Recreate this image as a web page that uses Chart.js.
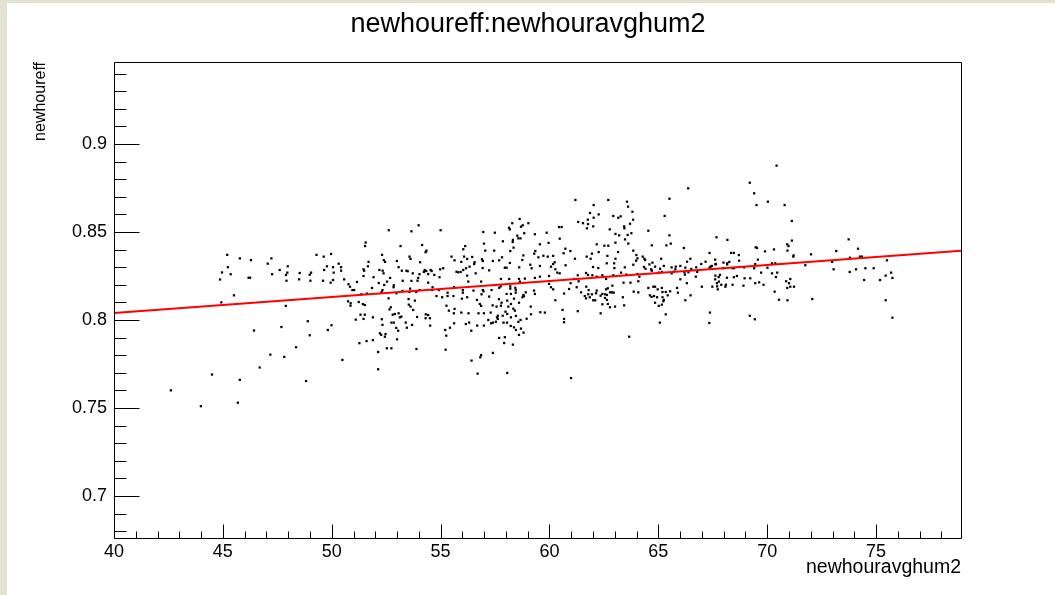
<!DOCTYPE html>
<html>
<head>
<meta charset="utf-8">
<title>newhoureff:newhouravghum2</title>
<script src="https://cdn.jsdelivr.net/npm/chart.js@4.4.0/dist/chart.umd.js"></script>
<style>
  html, body { margin: 0; padding: 0; background: #e5e2d2; overflow: hidden; }
  #wrap { position: absolute; left: 7px; top: 3px; width: 1048px; height: 592px; background: #fff; }
  canvas { display: block; }
</style>
</head>
<body>
<div id="wrap"><canvas id="c" width="1048" height="592" style="width:1048px;height:592px"></canvas></div>
<script>
// newhouravghum2 (x) and newhoureff (y), same order in both arrays
const hum = [
  // < 47
  45.20,45.78,46.29,45.23,44.96,45.36,44.87,46.18,46.25,45.51,44.93,46.43,46.69,44.50,45.78,42.61,45.69,43.99,
  // 47 - 53.3
  52.62,47.23,47.06,51.56,51.53,53.16,49.30,49.63,49.97,52.31,
  52.39,52.45,51.69,50.32,52.99,50.43,47.98,49.78,50.06,50.43,
  51.66,53.07,52.34,52.38,52.19,53.22,47.61,47.96,47.90,47.26,
  48.53,48.99,49.05,49.65,50.09,51.46,51.49,51.46,51.92,48.50,
  47.92,49.02,49.60,50.06,49.95,50.57,51.16,52.68,52.54,53.26,
  52.16,52.85,52.84,50.77,50.84,50.95,51.03,52.41,51.85,52.33,
  52.29,51.36,51.61,52.97,52.61,53.25,47.89,50.75,50.87,50.86,
  51.24,51.43,51.52,52.71,52.65,52.80,52.90,53.07,53.20,53.13,
  51.32,51.52,51.46,51.89,52.30,52.33,51.10,52.74,52.85,48.90,
  47.69,49.99,49.82,52.96,53.05,48.99,52.21,52.27,52.47,52.44,
  53.00,51.60,51.89,51.27,48.36,52.53,52.74,52.13,47.18,47.82,
  50.49,52.13,48.82,
  // 53.3 - 59.8, upper
  58.63,58.29,59.03,53.99,53.66,55.00,58.14,58.18,58.69,58.77,
  56.96,57.49,58.84,58.52,58.57,58.67,59.33,57.86,58.32,58.31,
  56.99,59.56,54.15,56.13,56.04,58.35,58.20,54.35,54.31,57.05,
  57.46,59.35,59.30,58.80,59.72,59.49,53.57,53.62,55.50,56.08,
  56.22,56.45,56.90,56.94,56.56,56.54,57.82,57.69,55.64,55.95,
  58.18,58.75,54.06,57.40,56.33,56.17,56.93,57.23,58.03,57.95,
  58.61,59.12,59.56,59.18,55.12,54.98,54.27,54.34,54.23,54.54,
  54.59,54.43,53.43,53.49,53.72,54.03,54.71,55.73,55.81,55.92,
  56.04,56.61,56.22,53.97,54.95,57.77,58.15,58.60,58.87,59.33,
  59.56,
  // 53.3 - 59.8, lower
  53.66,53.94,54.43,54.63,54.61,55.62,56.27,56.86,57.76,58.20,
  58.20,58.43,58.64,53.60,53.57,53.88,54.03,54.93,55.32,56.02,
  56.02,56.51,56.94,56.97,56.88,57.34,57.69,58.03,58.23,58.45,
  58.45,58.80,58.76,58.83,58.91,59.29,59.33,54.81,53.82,53.53,
  55.07,55.32,55.59,55.98,56.22,56.67,57.23,57.68,57.80,57.77,
  58.06,58.23,58.37,58.60,53.54,53.62,53.74,56.80,56.86,57.39,
  57.57,58.11,58.34,58.41,59.14,55.27,55.38,55.64,55.61,55.95,
  56.28,56.74,56.99,57.30,57.63,57.85,57.59,57.63,57.98,58.06,
  58.23,58.46,58.67,58.57,58.95,59.15,59.58,54.32,54.43,54.51,
  54.31,53.92,53.40,53.45,53.69,54.52,55.62,56.16,56.31,56.68,
  56.99,57.19,57.32,57.54,57.40,57.89,58.05,58.22,58.37,58.46,
  58.69,58.81,58.60,56.41,55.21,55.43,55.26,57.69,57.95,57.92,
  58.32,53.89,55.23,57.40,56.86,56.82,56.42,56.70,58.06,
  // 59.8 - 65.8, upper
  61.19,62.70,62.03,63.56,63.61,65.51,61.86,62.26,63.81,62.03,
  61.76,62.93,63.16,63.27,65.29,61.32,61.54,61.77,62.01,61.72,
  63.84,63.70,63.43,63.44,62.77,60.44,60.56,59.87,64.54,63.76,
  63.03,63.20,65.51,60.47,63.47,63.59,59.96,62.17,63.03,63.62,
  62.52,62.70,64.70,65.37,65.57,60.73,60.96,60.65,62.26,61.95,
  63.15,63.85,59.92,60.17,61.17,61.71,61.89,62.66,63.03,63.99,
  64.04,64.28,64.36,65.13,
  // 59.8 - 65.8, lower
  60.07,60.17,60.24,60.74,60.27,60.36,60.47,59.98,62.00,62.24,
  62.63,62.97,62.98,63.46,63.98,64.39,64.34,64.41,64.59,64.73,
  64.85,64.67,64.70,65.08,65.25,65.16,65.02,65.61,65.70,65.61,
  61.68,61.77,61.97,62.17,62.43,62.60,62.93,63.29,63.53,61.30,
  61.34,61.13,60.97,60.90,61.25,59.98,60.07,60.17,60.67,61.45,
  61.69,61.80,61.78,61.62,61.68,61.85,61.95,62.17,62.14,62.01,
  62.10,62.35,62.43,62.56,62.55,62.64,62.68,62.60,62.78,62.87,
  62.95,62.89,63.40,63.72,63.37,62.64,62.43,62.68,62.78,63.01,
  62.35,63.43,63.87,64.08,63.85,64.04,64.08,64.13,64.54,64.77,
  64.85,64.97,65.16,65.19,65.34,65.54,64.61,64.69,64.80,64.94,
  65.19,65.25,65.43,64.85,65.02,65.16,65.23,65.34,65.07,63.66,
  60.60,61.30,60.67,60.67,60.27,59.79,60.99,
  // 65.8 - 72.5
  70.43,66.37,69.20,69.40,69.51,70.03,70.80,71.13,67.67,68.17,
  66.17,71.13,70.92,70.98,70.93,69.47,69.53,70.31,71.21,71.20,
  67.35,68.34,68.47,68.70,66.47,66.32,66.24,67.61,67.64,66.97,
  67.17,67.40,67.99,68.16,68.26,68.71,69.57,69.45,69.90,70.22,
  70.37,70.01,71.75,72.01,65.80,65.78,66.01,66.74,66.51,66.78,
  67.35,67.46,67.62,67.98,68.16,68.41,68.48,68.94,69.40,66.20,
  66.38,66.22,66.01,65.86,66.72,66.78,67.62,67.83,67.77,67.61,
  68.15,68.61,68.47,68.96,69.72,70.22,70.46,70.40,70.87,71.06,
  71.00,66.31,67.00,67.48,67.69,67.78,67.70,67.73,67.89,68.10,
  68.08,68.41,68.91,69.22,69.45,69.63,69.83,71.06,71.23,70.92,
  65.90,66.48,66.24,67.37,67.34,69.20,69.43,70.34,70.54,70.93,72.07,
  // > 72.5
  73.74,73.17,74.17,73.80,74.26,74.35,72.98,75.50,73.05,73.79,
  74.08,74.51,74.89,75.69,75.44,75.75,74.45,75.18,75.44,75.75
];
const eff = [
  .837,.835,.834,.830,.827,.826,.823,.824,.824,.814,.810,.794,.773,.769,.766,.760,.753,.751,

  .851,.835,.832,.844,.842,.842,.837,.836,.8375,.837,
  .834,.833,.833,.832,.8335,.830,.8305,.8305,.830,.828,
  .8305,.830,.828,.8265,.8284,.828,.8284,.8269,.8256,.826,
  .8267,.8257,.8269,.8284,.8269,.8288,.828,.825,.8243,.8231,
  .8223,.8223,.8223,.8227,.8212,.8231,.8216,.8239,.8218,.8223,
  .821,.8197,.8186,.8203,.8189,.817,.817,.8199,.8182,.817,
  .8159,.8146,.815,.8152,.8123,.8165,.808,.8106,.8095,.8081,
  .8102,.809,.8085,.8072,.806,.803,.8034,.8038,.8019,.8015,
  .803,.803,.8006,.8015,.8004,.7972,.8002,.7985,.7985,.7993,
  .796,.797,.7943,.7955,.7939,.7913,.7924,.7916,.792,.7905,
  .789,.788,.7885,.7868,.7845,.7839,.7839,.7818,.7803,.779,
  .7773,.772,.7653,

  .8574,.855,.855,.8538,.8504,.851,.8524,.8515,.853,.8538,
  .850,.8496,.8493,.8479,.8464,.8464,.8487,.8447,.8455,.8443,
  .8434,.843,.8426,.842,.8402,.8411,.8392,.8394,.8385,.8394,
  .8394,.8392,.8377,.8367,.8365,.8356,.836,.8347,.836,.836,
  .8347,.8358,.8345,.8335,.8328,.8318,.8356,.8339,.8339,.833,
  .8324,.8341,.8328,.8335,.8303,.8294,.8295,.8282,.8297,.8297,
  .8299,.8314,.8307,.8294,.8294,.8288,.8284,.8278,.8273,.8284,
  .8278,.8261,.828,.8277,.8265,.826,.8256,.8274,.8271,.8273,
  .8284,.8265,.8252,.8239,.8243,.8233,.8233,.8233,.8235,.8239,
  .8246,

  .8222,.8223,.8212,.8186,.817,.8187,.8218,.8218,.8191,.8191,
  .8178,.8183,.8218,.8178,.8159,.8159,.817,.817,.8155,.817,
  .8155,.8167,.817,.8163,.8146,.817,.8183,.8148,.8148,.817,
  .8155,.8142,.8129,.8135,.8157,.8167,.8148,.8136,.811,.8119,
  .8129,.8136,.8136,.8121,.8129,.8114,.8133,.8118,.8098,.8081,
  .811,.8091,.8121,.8098,.8087,.8076,.8057,.8091,.808,.8083,
  .8076,.8076,.8064,.8053,.8076,.8081,.8053,.8063,.8038,.8042,
  .8038,.8038,.8038,.8042,.8024,.8024,.8015,.8006,.8047,.8034,
  .8015,.8023,.800,.7989,.8007,.8032,.8044,.8032,.8028,.801,
  .801,.8017,.7985,.7956,.7972,.7968,.7981,.7977,.7985,.7968,
  .7968,.800,.7981,.799,.7985,.7985,.7985,.7966,.7958,.7943,
  .7951,.7928,.7915,.7939,.7943,.7956,.7911,.7898,.7902,.7869,
  .786,.7835,.7831,.7813,.780,.7788,.7769,.7695,.7699,

  .8682,.8682,.8653,.8672,.8644,.8689,.8608,.860,.8615,.8581,
  .857,.8591,.8581,.8589,.8591,.8557,.855,.8545,.8532,.8521,
  .857,.8547,.8532,.8521,.8515,.8528,.8528,.8496,.8507,.8493,
  .8489,.8481,.8481,.8462,.8458,.8483,.8438,.843,.8439,.8434,
  .8422,.8422,.8424,.8424,.8434,.8405,.8392,.8379,.8386,.8377,
  .8386,.8394,.836,.8364,.8348,.836,.8348,.8364,.8348,.8369,
  .835,.836,.8348,.8348,

  .8303,.8318,.8328,.8311,.8288,.8269,.8265,.825,.8301,.8295,
  .8322,.8322,.8295,.8299,.8337,.8341,.8301,.8291,.8316,.8326,
  .8303,.8288,.828,.8291,.8307,.8273,.8269,.8299,.8274,.8265,
  .8267,.8256,.8254,.8246,.8254,.8233,.8254,.8269,.8258,.8254,
  .822,.8233,.8209,.8176,.8186,.8205,.8186,.8174,.815,.8157,
  .8189,.817,.8146,.8136,.8123,.8129,.8146,.8167,.8152,.8112,
  .8112,.8138,.8148,.8146,.8125,.8142,.818,.8174,.8157,.8157,
  .8155,.8195,.8212,.8212,.8129,.8114,.8089,.8091,.8072,.8076,
  .8038,.8083,.8161,.8157,.8314,.8261,.822,.8246,.8182,.8189,
  .8189,.8174,.8182,.8159,.8159,.8163,.814,.8131,.8136,.8129,
  .8129,.8114,.814,.8098,.808,.8087,.8106,.8032,.7985,.7905,
  .8057,.805,.8006,.7987,.8112,.8042,.767,

  .8877,.8748,.878,.872,.8653,.8672,.8653,.8563,.847,.8455,
  .8409,.8451,.843,.842,.8394,.8413,.8409,.8401,.8367,.836,
  .8381,.8381,.8381,.8369,.8348,.8331,.8297,.8343,.8318,.8318,
  .8331,.8303,.8326,.8322,.833,.8337,.8343,.8318,.839,.8322,
  .8322,.8297,.8311,.8373,.8303,.8288,.8307,.8299,.829,.8274,
  .8297,.8307,.8316,.8294,.8316,.8294,.8295,.8299,.8294,.8271,
  .8271,.8258,.8231,.8182,.8246,.8277,.8252,.8256,.8244,.8231,
  .824,.825,.8243,.8237,.8269,.8265,.8269,.8244,.822,.8233,
  .8209,.8209,.8189,.8189,.8209,.8218,.8191,.8174,.820,.820,
  .8189,.820,.8195,.8237,.8209,.8214,.820,.8189,.8189,.8182,
  .8155,.814,.8112,.8042,.7983,.8024,.8004,.8161,.8115,.8112,.8119,

  .8458,.8392,.8405,.8354,.836,.836,.833,.8339,.8288,.8273,
  .8288,.8294,.8294,.8269,.8252,.8239,.8227,.8227,.8112,.8013
];

// linear fit drawn over the scatter
const fitX = [40, 78.9];
const fitY = [0.8040, 0.8393];

const xTicks = [40, 45, 50, 55, 60, 65, 70, 75];
const xLabels = ['40', '45', '50', '55', '60', '65', '70', '75'];
const yTicks = [0.7, 0.75, 0.8, 0.85, 0.9];
const yLabels = ['0.7', '0.75', '0.8', '0.85', '0.9'];

const X_MIN = 40, X_MAX = 78.9;
const Y_MIN = 0.6761, Y_MAX = 0.9466;

const FONT = "'Liberation Sans', Arial, Helvetica, sans-serif";
Chart.defaults.font.family = FONT;
Chart.defaults.color = '#000';

if (hum.length !== eff.length) console.warn('length mismatch', hum.length, eff.length);
const n = Math.min(hum.length, eff.length);
const scatter = [];
for (let i = 0; i < n; i++) scatter.push({ x: hum[i], y: eff[i] });

// ROOT style: framed pad, ticks pointing inward, title over the pad centre
const rootFrame = {
  id: 'rootFrame',
  afterDraw(chart) {
    const { ctx, chartArea: a, scales: { x, y } } = chart;
    ctx.save();
    ctx.strokeStyle = '#000';
    ctx.lineWidth = 1;
    ctx.beginPath();
    const L = Math.round(a.left) + 0.5, R = Math.round(a.right) + 0.5;
    const T = Math.round(a.top) + 0.5, B = Math.round(a.bottom) + 0.5;
    ctx.rect(L, T, R - L, B - T);
    for (let v = 40; v <= 78; v++) {
      const px = Math.round(x.getPixelForValue(v)) + 0.5;
      const len = v % 5 === 0 ? 14 : 7;
      ctx.moveTo(px, B);
      ctx.lineTo(px, B - len);
    }
    for (let k = 68; k <= 94; k++) {
      const py = Math.round(y.getPixelForValue(k / 100)) + 0.5;
      const len = k % 5 === 0 ? 25 : 12;
      ctx.moveTo(L, py);
      ctx.lineTo(L + len, py);
    }
    ctx.stroke();

    ctx.fillStyle = '#000';
    ctx.font = '27px ' + FONT;
    ctx.textAlign = 'center';
    ctx.textBaseline = 'alphabetic';
    ctx.fillText('newhoureff:newhouravghum2', 521, 29);
    ctx.restore();
  }
};

new Chart(document.getElementById('c'), {
  type: 'scatter',
  data: {
    datasets: [
      {
        type: 'line',
        data: fitX.map((v, i) => ({ x: v, y: fitY[i] })),
        borderColor: '#ff0000',
        borderWidth: 2,
        pointRadius: 0,
        fill: false,
        order: 0
      },
      {
        data: scatter,
        pointStyle: 'rect',
        pointRadius: 1.6,
        backgroundColor: '#000',
        borderWidth: 0,
        order: 1
      }
    ]
  },
  options: {
    responsive: false,
    animation: false,
    events: [],
    layout: { padding: { left: 0, right: 94, top: 59, bottom: 0 } },
    plugins: { legend: { display: false }, tooltip: { enabled: false }, title: { display: false } },
    scales: {
      x: {
        type: 'linear',
        min: X_MIN,
        max: X_MAX,
        afterBuildTicks: (s) => { s.ticks = xTicks.map(v => ({ value: v })); },
        afterFit: (s) => { s.height = 57; },
        grid: { display: false, drawTicks: false },
        border: { display: false },
        ticks: {
          autoSkip: false,
          maxRotation: 0,
          padding: 3,
          font: { size: 18 },
          callback: (v, i) => xLabels[i]
        },
        title: {
          display: true,
          text: 'newhouravghum2',
          align: 'end',
          font: { size: 19.5 },
          padding: { top: 0, bottom: 16 }
        }
      },
      y: {
        type: 'linear',
        min: Y_MIN,
        max: Y_MAX,
        afterBuildTicks: (s) => { s.ticks = yTicks.map(v => ({ value: v })); },
        afterFit: (s) => { s.width = 107; },
        grid: { display: false, drawTicks: false },
        border: { display: false },
        ticks: {
          padding: 7,
          font: { size: 18 },
          callback: (v, i) => yLabels[i]
        },
        title: {
          display: true,
          text: 'newhoureff',
          align: 'end',
          font: { size: 16 },
          padding: { top: 24, bottom: 0 }
        }
      }
    }
  },
  plugins: [rootFrame]
});
</script>
</body>
</html>
